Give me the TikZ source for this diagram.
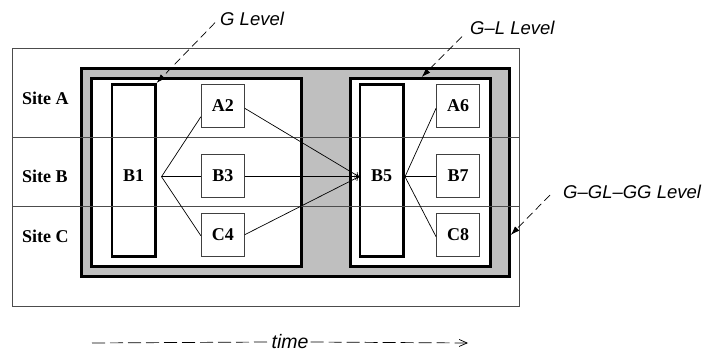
\documentclass[tikz,border=0pt]{standalone}
\usepackage{fontspec}
\setmainfont{Liberation Serif}
\newfontfamily\lvlfont{Liberation Sans}
\usetikzlibrary{arrows.meta,calc}
\begin{document}
\begin{tikzpicture}[x=1pt,y=-1pt,
  labfont/.style={font=\bfseries\fontsize{18}{20}\selectfont},
  thinframe/.style={draw=black!70, line width=0.9pt, inner sep=0pt},
  thickframe/.style={draw=black, line width=3pt, inner sep=0pt},
  blockbox/.style={draw=black, line width=2.6pt, inner sep=0pt, minimum width=43.3pt, minimum height=172.4pt},
  taskbox/.style={draw=black!75, line width=0.9pt, fill=white, minimum size=43pt, inner sep=0pt, labfont},
  siteline/.style={draw=black!70, line width=0.9pt},
  link/.style={line width=0.7pt},
  lvl/.style={font=\lvlfont\itshape\fontsize{18.5}{21}\selectfont, inner sep=0pt},
  ptr/.style={line width=0.7pt, dash pattern=on 8pt off 4.5pt, -{Latex[length=9pt,width=6pt]}},
  timeline/.style={line width=0.7pt, dash pattern=on 13pt off 5pt}
]
\useasboundingbox (0,0) rectangle (704,352);
% frames
\node[thinframe, minimum width=507pt, minimum height=258pt] (outer) at (265.5,177) {};
\node[thickframe, fill=black!25, minimum width=427.6pt, minimum height=208.4pt] (ggl) at (295.5,172.5) {};
\node[thickframe, fill=white, minimum width=209.3pt, minimum height=188pt] (gl1) at (196.35,172.3) {};
\node[thickframe, fill=white, minimum width=140pt, minimum height=188pt] (gl2) at (420,172.3) {};
% site separators
\coordinate (s1l) at (12,137.3); \coordinate (s1r) at (519,137.3);
\coordinate (s2l) at (12,206.7); \coordinate (s2r) at (519,206.7);
% blocks
\node[blockbox, label={[labfont, yshift=-5.5pt]center:B1}] (B1) at (133.65,170.5) {};
\node[blockbox, label={[labfont, yshift=-5.5pt]center:B5}] (B5) at (381.65,170.5) {};
\draw[siteline] (s1l) -- (s1r);
\draw[siteline] (s2l) -- (s2r);
% tasks
\node[taskbox] (A2) at (222.8,105.8) {A2};
\node[taskbox] (B3) at (222.8,175.5) {B3};
\node[taskbox] (C4) at (222.8,234.7) {C4};
\node[taskbox] (A6) at (458,105.8) {A6};
\node[taskbox] (B7) at (458,175.5) {B7};
\node[taskbox] (C8) at (458,234.7) {C8};
% site labels
\node[labfont, anchor=west, inner sep=0pt] (sA) at (22,98) {Site A};
\node[labfont, anchor=west, inner sep=0pt] (sB) at (22,176) {Site B};
\node[labfont, anchor=west, inner sep=0pt] (sC) at (22,236) {Site C};
% connectors
\coordinate (j1) at (161.5,176.7);
\coordinate (j2) at (359,176.7);
\coordinate (j3) at (405,176.7);
\draw[link] ([yshift=-11pt]A2.west) -- (j1) -- ([yshift=-1pt]C4.west);
\draw[link] (j1) -- (j1 -| B3.west);
\draw[link, -{To[length=4pt,width=6pt]}] ([yshift=-2.5pt]A2.east) -- (j2);
\draw[link, -{To[length=4pt,width=6pt]}] (j2 -| B3.east) -- (j2);
\draw[link, -{To[length=4pt,width=6pt]}] (C4.east) -- (j2);
\draw[link] ([yshift=-2.5pt]A6.west) -- (j3) -- ([yshift=-2pt]C8.west);
\draw[link] (j3) -- (j3 -| B7.west);
% level labels
\node[lvl, anchor=west] (gL) at (220,19) {G Level};
\node[lvl, anchor=west] (glL) at (470,28) {G–L Level};
\node[lvl, anchor=west] (gglL) at (563,191.7) {G–GL–GG Level};
\coordinate (p1) at (215,22.7);
\coordinate (p2) at (462,36.7);
\coordinate (p3) at (550,195);
\draw[ptr] (p1) -- (B1.north east);
\draw[ptr] (p2) -- (421.7,77);
\draw[ptr] (p3) -- (ggl.east |- 0,235);
% time
\node[lvl, font=\lvlfont\itshape\fontsize{19.5}{22}\selectfont, fill=white, inner xsep=2pt] (time) at (290,342) {time};
\coordinate (t0) at (92,343);
\coordinate (t1) at (468,343);
\draw[timeline] (t0) -- (time.west);
\draw[timeline, -{Straight Barb[length=8pt,width=7pt]}] (time.east) -- (t1);
\end{tikzpicture}
\end{document}
